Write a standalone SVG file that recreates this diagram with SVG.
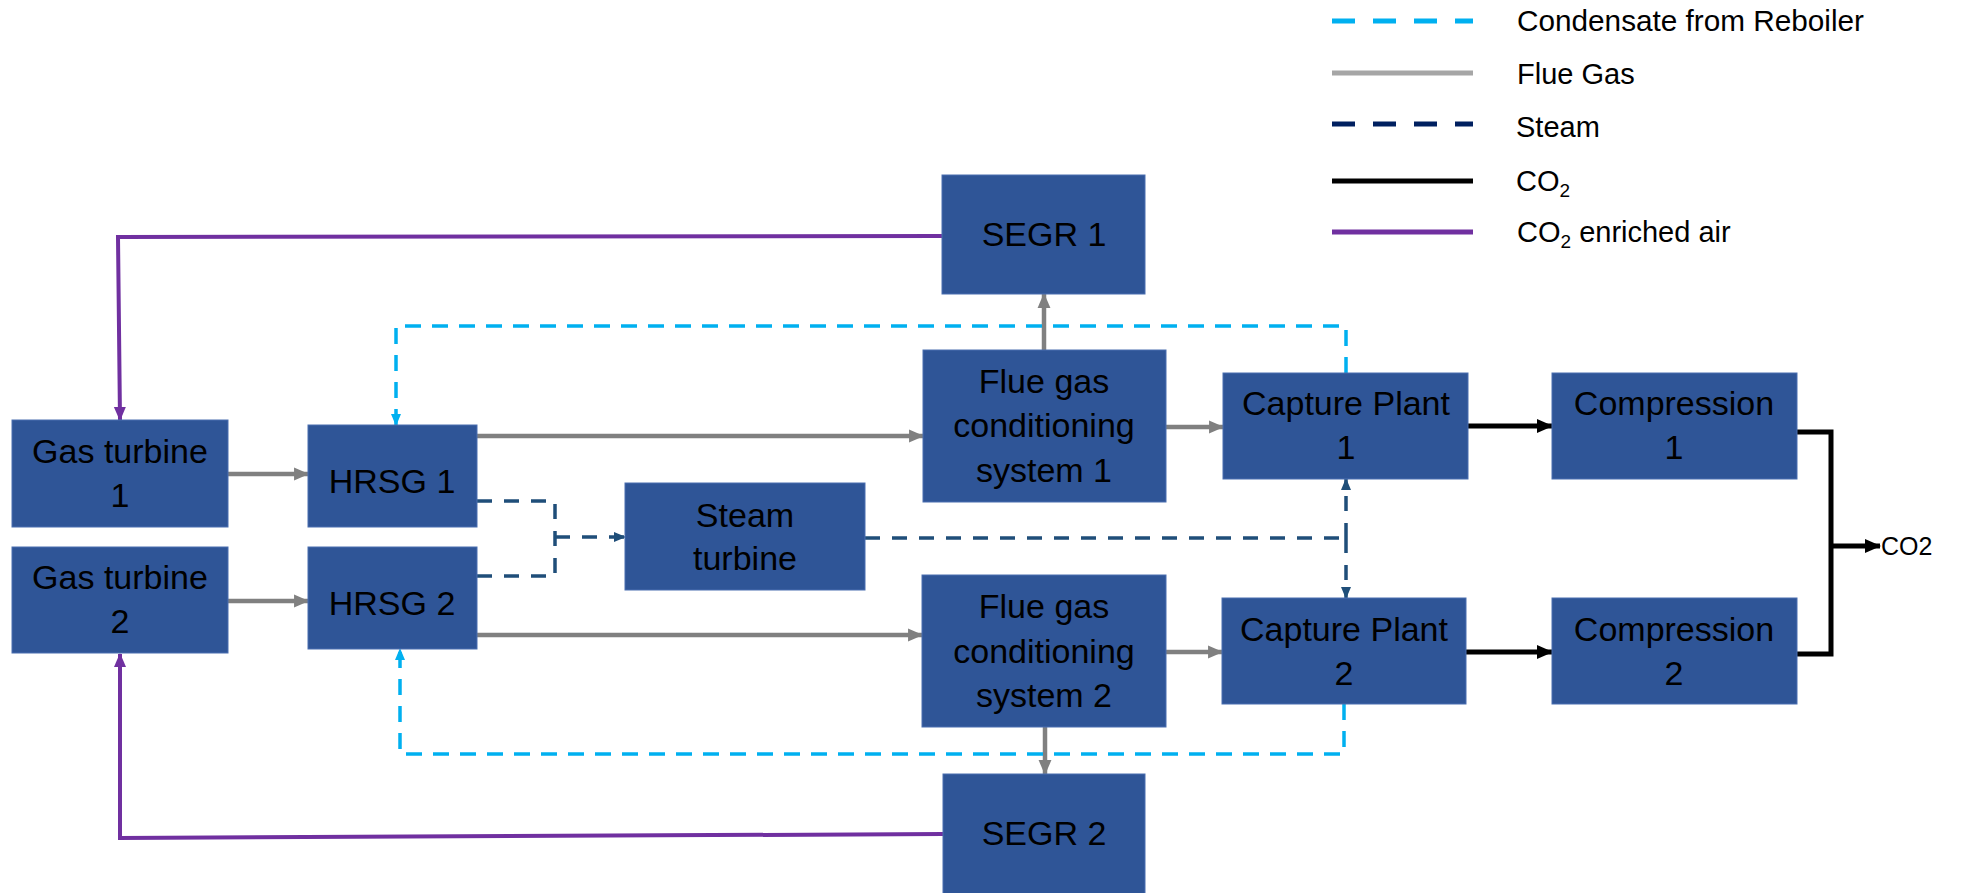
<svg xmlns="http://www.w3.org/2000/svg" width="1961" height="893" viewBox="0 0 1961 893">
  <style>
    .box { fill: #2F5597; stroke: #4A6FB0; stroke-width: 1; }
    .lbl { font-family: "Liberation Sans", Arial, sans-serif; font-size: 34px; fill: #000; text-anchor: middle; }
    .leg { font-family: "Liberation Sans", Arial, sans-serif; font-size: 29px; fill: #000; }
    .out { font-family: "Liberation Sans", Arial, sans-serif; font-size: 25px; fill: #000; }
    .gas { fill: none; stroke: #808080; stroke-width: 4.5; }
    .co2 { fill: none; stroke: #000; stroke-width: 5; }
    .air { fill: none; stroke: #7030A0; stroke-width: 4; }
    .cond { fill: none; stroke: #00B0F0; stroke-width: 3.5; stroke-dasharray: 16 11; }
    .steam { fill: none; stroke: #1F4E79; stroke-width: 3.5; stroke-dasharray: 15 12; }
  </style>
  <defs>
    <marker id="ahGas" markerUnits="userSpaceOnUse" markerWidth="15" markerHeight="15" viewBox="0 0 14 14" refX="13" refY="7" orient="auto">
      <path d="M0,1 L14,7 L0,13 Z" fill="#808080"/>
    </marker>
    <marker id="ahCo2" markerUnits="userSpaceOnUse" markerWidth="16" markerHeight="16" viewBox="0 0 16 16" refX="15" refY="8" orient="auto">
      <path d="M0,1 L16,8 L0,15 Z" fill="#000"/>
    </marker>
    <marker id="ahAir" markerUnits="userSpaceOnUse" markerWidth="14" markerHeight="14" viewBox="0 0 14 14" refX="13" refY="7" orient="auto">
      <path d="M0,1 L14,7 L0,13 Z" fill="#7030A0"/>
    </marker>
    <marker id="ahCond" markerUnits="userSpaceOnUse" markerWidth="12" markerHeight="12" viewBox="0 0 12 12" refX="11" refY="6" orient="auto">
      <path d="M0,1 L12,6 L0,11 Z" fill="#00B0F0"/>
    </marker>
    <marker id="ahSteam" markerUnits="userSpaceOnUse" markerWidth="12" markerHeight="12" viewBox="0 0 12 12" refX="11" refY="6" orient="auto">
      <path d="M0,1 L12,6 L0,11 Z" fill="#1F4E79"/>
    </marker>
  </defs>

  <!-- Legend -->
  <g id="legend">
    <line x1="1332" y1="21" x2="1473" y2="21" stroke="#00B0F0" stroke-width="5" stroke-dasharray="23 18"/>
    <text class="leg" x="1517" y="31" textLength="347" lengthAdjust="spacingAndGlyphs">Condensate from Reboiler</text>
    <line x1="1332" y1="73" x2="1473" y2="73" stroke="#A6A6A6" stroke-width="5"/>
    <text class="leg" x="1517" y="84">Flue Gas</text>
    <line x1="1332" y1="124" x2="1473" y2="124" stroke="#002060" stroke-width="5" stroke-dasharray="23 18"/>
    <text class="leg" x="1516" y="137">Steam</text>
    <line x1="1332" y1="181" x2="1473" y2="181" stroke="#000" stroke-width="5"/>
    <text class="leg" x="1516" y="191">CO<tspan font-size="19" dy="6">2</tspan></text>
    <line x1="1332" y1="232" x2="1473" y2="232" stroke="#7030A0" stroke-width="5"/>
    <text class="leg" x="1517" y="242">CO<tspan font-size="19" dy="6">2</tspan><tspan dy="-6"> enriched air</tspan></text>
  </g>

  <!-- Connectors -->
  <g id="connectors">
    <!-- CO2 enriched air recycle -->
    <polyline class="air" points="942,236 118,237 120,420" marker-end="url(#ahAir)"/>
    <polyline class="air" points="943,834 120,838 120,654" marker-end="url(#ahAir)"/>
    <!-- Flue gas -->
    <line class="gas" x1="228" y1="474" x2="308" y2="474" marker-end="url(#ahGas)"/>
    <line class="gas" x1="228" y1="601" x2="308" y2="601" marker-end="url(#ahGas)"/>
    <line class="gas" x1="477" y1="436" x2="923" y2="436" marker-end="url(#ahGas)"/>
    <line class="gas" x1="477" y1="635" x2="922" y2="635" marker-end="url(#ahGas)"/>
    <line class="gas" x1="1166" y1="427" x2="1223" y2="427" marker-end="url(#ahGas)"/>
    <line class="gas" x1="1166" y1="652" x2="1222" y2="652" marker-end="url(#ahGas)"/>
    <line class="gas" x1="1044" y1="350" x2="1044" y2="294" marker-end="url(#ahGas)"/>
    <line class="gas" x1="1045" y1="727" x2="1045" y2="774" marker-end="url(#ahGas)"/>
    <!-- CO2 product -->
    <line class="co2" x1="1468" y1="426" x2="1552" y2="426" marker-end="url(#ahCo2)"/>
    <line class="co2" x1="1466" y1="652" x2="1552" y2="652" marker-end="url(#ahCo2)"/>
    <polyline class="co2" points="1797,432 1831,432 1831,654 1797,654"/>
    <line class="co2" x1="1831" y1="546" x2="1880" y2="546" marker-end="url(#ahCo2)"/>
    <!-- Condensate from reboiler -->
    <polyline class="cond" points="1346,373 1346,326 396,326 396,425" marker-end="url(#ahCond)"/>
    <polyline class="cond" points="1344,704 1344,754 400,754 400,649" marker-end="url(#ahCond)"/>
    <!-- Steam -->
    <polyline class="steam" points="477,501 555,501 555,576 477,576"/>
    <line class="steam" x1="555" y1="537" x2="625" y2="537" marker-end="url(#ahSteam)"/>
    <line class="steam" x1="865" y1="538" x2="1346" y2="538"/>
    <line class="steam" x1="1346" y1="538" x2="1346" y2="479" marker-end="url(#ahSteam)"/>
    <line class="steam" x1="1346" y1="538" x2="1346" y2="598" marker-end="url(#ahSteam)"/>
  </g>

  <!-- Nodes -->
  <g id="gas-turbine-1">
    <rect class="box" x="12" y="420" width="216" height="107"/>
    <text class="lbl" x="120" y="463">Gas turbine</text>
    <text class="lbl" x="120" y="507">1</text>
  </g>
  <g id="gas-turbine-2">
    <rect class="box" x="12" y="547" width="216" height="106"/>
    <text class="lbl" x="120" y="589">Gas turbine</text>
    <text class="lbl" x="120" y="633">2</text>
  </g>
  <g id="hrsg-1">
    <rect class="box" x="308" y="425" width="169" height="102"/>
    <text class="lbl" x="392" y="493">HRSG 1</text>
  </g>
  <g id="hrsg-2">
    <rect class="box" x="308" y="547" width="169" height="102"/>
    <text class="lbl" x="392" y="615">HRSG 2</text>
  </g>
  <g id="steam-turbine">
    <rect class="box" x="625" y="483" width="240" height="107"/>
    <text class="lbl" x="745" y="527">Steam</text>
    <text class="lbl" x="745" y="570">turbine</text>
  </g>
  <g id="flue-gas-conditioning-1">
    <rect class="box" x="923" y="350" width="243" height="152"/>
    <text class="lbl" x="1044" y="393">Flue gas</text>
    <text class="lbl" x="1044" y="437">conditioning</text>
    <text class="lbl" x="1044" y="482">system 1</text>
  </g>
  <g id="flue-gas-conditioning-2">
    <rect class="box" x="922" y="575" width="244" height="152"/>
    <text class="lbl" x="1044" y="618">Flue gas</text>
    <text class="lbl" x="1044" y="663">conditioning</text>
    <text class="lbl" x="1044" y="707">system 2</text>
  </g>
  <g id="segr-1">
    <rect class="box" x="942" y="175" width="203" height="119"/>
    <text class="lbl" x="1044" y="246">SEGR 1</text>
  </g>
  <g id="segr-2">
    <rect class="box" x="943" y="774" width="202" height="122"/>
    <text class="lbl" x="1044" y="845">SEGR 2</text>
  </g>
  <g id="capture-plant-1">
    <rect class="box" x="1223" y="373" width="245" height="106"/>
    <text class="lbl" x="1346" y="415">Capture Plant</text>
    <text class="lbl" x="1346" y="459">1</text>
  </g>
  <g id="capture-plant-2">
    <rect class="box" x="1222" y="598" width="244" height="106"/>
    <text class="lbl" x="1344" y="641">Capture Plant</text>
    <text class="lbl" x="1344" y="685">2</text>
  </g>
  <g id="compression-1">
    <rect class="box" x="1552" y="373" width="245" height="106"/>
    <text class="lbl" x="1674" y="415">Compression</text>
    <text class="lbl" x="1674" y="459">1</text>
  </g>
  <g id="compression-2">
    <rect class="box" x="1552" y="598" width="245" height="106"/>
    <text class="lbl" x="1674" y="641">Compression</text>
    <text class="lbl" x="1674" y="685">2</text>
  </g>
  <g id="co2-outlet">
    <text class="out" x="1881" y="555">CO2</text>
  </g>
</svg>
